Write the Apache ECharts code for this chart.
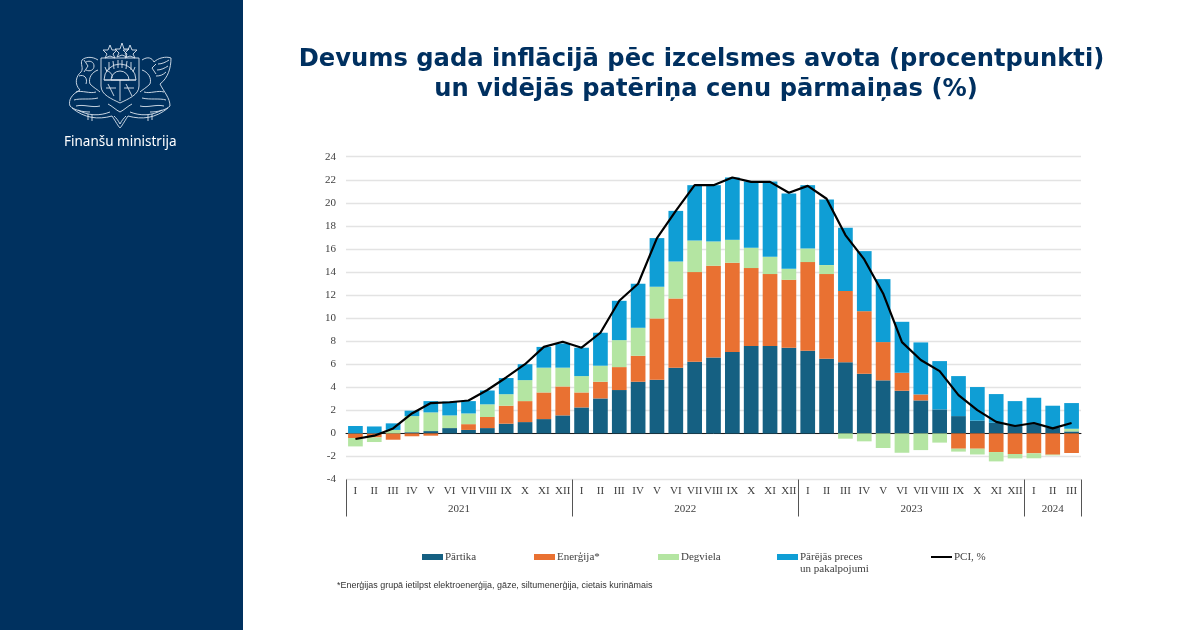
<!DOCTYPE html>
<html><head><meta charset="utf-8">
<style>html,body{margin:0;padding:0;background:#fff}#c{width:1200px;height:630px}</style>
<script src="https://cdn.jsdelivr.net/npm/echarts@6/dist/echarts.min.js"></script>
</head><body><div id="c"></div>
<script>
const months=['I','II','III','IV','V','VI','VII','VIII','IX','X','XI','XII','I','II','III','IV','V','VI','VII','VIII','IX','X','XI','XII','I','II','III','IV','V','VI','VII','VIII','IX','X','XI','XII','I','II','III'];
const yearLabels={6:'2021',18:'2022',30:'2023',37.5:'2024'};
const yearTicks=[0,12,24,36,39];
const yearCentres=[6,18,30,37.5];
const food=[0,0,0,0.1,0.2,0.46,0.3,0.46,0.84,0.98,1.24,1.56,2.25,3.03,3.76,4.48,4.65,5.69,6.21,6.59,7.05,7.57,7.57,7.43,7.17,6.47,6.16,5.17,4.6,3.7,2.86,2.08,1.5,1.1,0.92,0.69,0.81,0.52,0.17];
const energyPos=[0,0,0,0,0,0,0.5,0.96,1.56,1.82,2.31,2.51,1.3,1.45,1.99,2.25,5.32,6.01,7.78,7.95,7.75,6.77,6.25,5.89,7.69,7.35,6.18,5.43,3.32,1.56,0.52,0,0,0,0,0,0,0,0];
const energyNeg=[-0.4,-0.35,-0.55,-0.25,-0.2,0,0,0,0,0,0,0,0,0,0,0,0,0,0,0,0,0,0,0,0,0,0,0,0,0,0,0,-1.33,-1.33,-1.62,-1.79,-1.73,-1.85,-1.7];
const fuelPos=[0,0,0.3,1.4,1.62,1.1,0.93,1.1,1.0,1.82,2.15,1.63,1.42,1.39,2.34,2.43,2.75,3.21,2.74,2.11,1.99,1.76,1.5,0.96,1.18,0.78,0,0,0,0,0,0,0,0,0,0,0,0,0.23];
const fuelNeg=[-0.73,-0.4,0,0,0,0,0,0,0,0,0,0,0,0,0,0,0,0,0,0,0,0,0,0,0,0,-0.46,-0.69,-1.27,-1.68,-1.45,-0.8,-0.25,-0.5,-0.81,-0.38,-0.43,-0.06,0];
const other=[0.64,0.6,0.57,0.47,0.98,1.2,1.07,1.2,1.4,1.38,1.8,2.1,2.46,2.86,3.41,3.82,4.22,4.39,4.8,4.88,5.41,5.75,6.53,6.52,5.49,5.69,5.49,5.21,5.46,4.42,4.51,4.19,3.47,2.92,2.49,2.11,2.28,1.88,2.23];
const pci=[-0.49,-0.2,0.43,1.73,2.63,2.7,2.85,3.76,4.85,6.0,7.5,7.95,7.43,8.73,11.5,12.98,16.94,19.3,21.53,21.53,22.2,21.82,21.82,20.87,21.47,20.35,17.2,15.09,12.14,7.92,6.36,5.4,3.32,2.02,1.0,0.64,0.9,0.43,0.9];

const NAVY='#00315f';
const serif='"Liberation Serif"';
const names=['Pārtika','Enerģija*','Degviela','Pārējās preces','PCI, %'];
const colors=['#156082','#E97132','#B4E5A2','#0F9ED5','#000000'];
const legendX=[422,534,658,777,930];
const labelStyle={fontFamily:serif,fontSize:11,color:'#404040'};
function bar(name,data,color,z){return {name,type:'bar',stack:'a',data,barWidth:'78%',xAxisIndex:0,yAxisIndex:0,itemStyle:{color},z,emphasis:{disabled:true}};}

// simplified line drawing of the coat of arms (decoration only)
const logoPath=[
 'M101 58H139V86C139 95 128 99 120 103C112 99 101 95 101 86Z',
 'M104 80A16 16 0 0 1 136 80Z M111 80A9 9 0 0 1 129 80Z M104 80H136 M120 80V101',
 'M109 62L109 70 M113 61L114 69 M118 60L118 68 M122 60L122 68 M127 61L126 69 M131 62L131 70 M105 67L107 72 M135 67L133 72',
 'M103 50L108 50L110 45L112 50L117 50L113 54L115 58L110 56L105 58L107 54Z',
 'M115 49L120 49L122 43L124 49L129 49L125 53L127 57L122 55L117 57L119 53Z',
 'M123 50L128 50L130 45L132 50L137 50L133 54L135 58L130 56L125 58L127 54Z',
 'M98 60C92 56 85 57 82 60C80 64 84 68 81 72C76 76 74 84 80 90C72 94 68 100 70 106C74 110 82 112 90 112',
 'M98 70C92 72 88 78 90 84C94 88 98 90 100 92 M84 60L88 66L84 72',
 'M86 62C90 60 94 62 94 66C94 70 90 72 86 70 M79 76C84 74 88 78 86 84 M76 92C82 90 90 94 96 92 M74 100C80 98 90 100 98 98 M76 106C84 104 92 108 100 106',
 'M142 60C148 56 152 58 154 62C158 58 166 56 171 58C171 68 168 78 160 84C164 92 170 98 170 106C166 110 158 112 150 112',
 'M142 70C148 72 152 78 150 84C146 88 142 90 140 92 M156 64L152 68L156 74',
 'M158 64C162 64 166 62 169 60 M157 70C161 70 165 68 168 66 M156 76C160 76 163 75 166 72 M164 92C158 90 150 94 144 92 M166 100C160 98 150 100 142 98 M164 106C156 104 148 108 140 106',
 'M72 108C84 118 98 120 112 116C116 122 118 126 120 128C122 126 124 122 128 116C142 120 156 118 168 108',
 'M78 110C88 116 100 116 110 112 M162 110C152 116 140 116 130 112 M114 116C116 118 118 120 120 124C122 120 124 118 126 116 M108 104C112 106 116 110 120 112C124 110 128 106 132 104',
 'M88 114V120 M92 115V121 M148 115V121 M152 114V120',
 'M106 70C110 72 113 74 112 78 M106 88H116 M124 88H134 M126 84L132 96 M108 84L114 96'
].join(' ');
echarts.graphic.registerShape('crest',echarts.graphic.extendPath(logoPath,{}));

const titleStyle={fontFamily:'"DejaVu Sans"',fontSize:24.2,fontWeight:'bold',color:'#003060',lineHeight:30};
const chart=echarts.init(document.getElementById('c'),null,{renderer:'canvas'});
chart.setOption({
 animation:false,
 backgroundColor:'#fff',
 title:[
  {text:'Devums gada inflācijā pēc izcelsmes avota (procentpunkti)',left:696.5,top:40,textAlign:'center',textStyle:titleStyle},
  {text:'un vidējās patēriņa cenu pārmaiņas (%)',left:701,top:70,textAlign:'center',textStyle:titleStyle}
 ],
 grid:{left:346,right:119,top:156.7,height:322.8,containLabel:false},
 legend:legendX.map((x,i)=>({
   data:[names[i]],left:x,top:550,orient:'horizontal',
   itemWidth:21,itemHeight:i===4?2:6,itemGap:2,padding:0,
   textStyle:{fontFamily:serif,fontSize:11,color:'#404040',lineHeight:14,padding:[0,0,0,-3]},
   selectedMode:false,icon:i===4?undefined:'rect'
 })),
 xAxis:[
  {type:'category',data:months,position:'bottom',axisLine:{onZero:false,show:false},axisTick:{show:false},
   axisLabel:{...labelStyle,interval:0,margin:6},splitLine:{show:false}},
  {type:'category',data:months,axisLine:{onZero:true,show:true,lineStyle:{color:'#1a1a1a',width:1}},axisTick:{show:false},axisLabel:{show:false}},
  {type:'value',min:0,max:39,position:'bottom',axisLine:{onZero:false,show:false},
   axisTick:{show:true,length:37,customValues:yearTicks,lineStyle:{color:'#555',width:1}},
   axisLabel:{...labelStyle,margin:24,customValues:yearCentres,formatter:v=>yearLabels[v]||''},
   splitLine:{show:false}}
 ],
 yAxis:[{type:'value',min:-4,max:24,interval:2,
   axisLine:{show:false},axisTick:{show:false},
   axisLabel:{...labelStyle,margin:10},
   splitLine:{lineStyle:{color:'#e3e3e3',width:1.4}}}],
 series:[
  bar(names[0],food,colors[0],2),
  bar(names[1],energyPos,colors[1],2),
  bar(names[1],energyNeg,colors[1],2),
  bar(names[2],fuelPos,colors[2],2),
  bar(names[2],fuelNeg,colors[2],2),
  bar(names[3],other,colors[3],2),
  {name:names[4],type:'line',data:pci,symbol:'none',z:5,lineStyle:{color:'#000',width:2.2},itemStyle:{color:'#000'},xAxisIndex:0,yAxisIndex:0}
 ],
 graphic:[
  {type:'rect',silent:true,z:-1,shape:{x:0,y:0,width:243,height:630},style:{fill:NAVY}},
  {type:'crest',silent:true,style:{fill:'none',stroke:'#dbe4ee',lineWidth:0.9}},
  {type:'text',silent:true,left:64,top:135,style:{text:'Finanšu ministrija',fontFamily:'"Noto Sans"',fontSize:13.5,fill:'#ffffff'}},
  {type:'text',silent:true,left:800,top:564,style:{text:'un pakalpojumi',fontFamily:serif,fontSize:11,fill:'#404040'}},
  {type:'text',silent:true,left:337,top:581,style:{text:'*Enerģijas grupā ietilpst elektroenerģija, gāze, siltumenerģija, cietais kurināmais',fontFamily:'"Liberation Sans"',fontSize:8.95,fill:'#333333'}}
 ]
});
</script></body></html>
